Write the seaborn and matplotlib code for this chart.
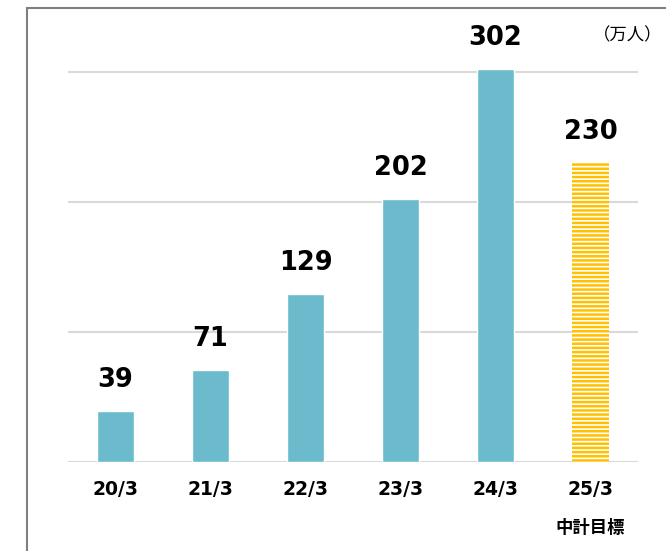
import matplotlib
matplotlib.use("Agg")
import matplotlib.pyplot as plt
import matplotlib.transforms as mtransforms
from matplotlib.patches import Rectangle
import seaborn as sns
import pandas as pd

periods = ["20/3", "21/3", "22/3", "23/3", "24/3", "25/3"]
users = [39, 71, 129, 202, 302, 230]
bar_colors = ["#6BBBCC"] * 5 + ["white"]
target_note = "中計目標"
unit_label = "（万人）"

sns.set_theme(style="white")
plt.rcParams['font.family'] = ['DejaVu Sans', 'Noto Sans CJK JP']
plt.rcParams['hatch.linewidth'] = 1.8

df = pd.DataFrame({"period": periods, "users": users})

fig = plt.figure(figsize=(6.66, 5.51), dpi=100)
ax = fig.add_axes([68 / 666, 89 / 551, 570 / 666, 455 / 551])

sns.barplot(data=df, x="period", y="users", hue="period", palette=bar_colors,
            legend=False, width=0.39, saturation=1, ax=ax)

# last bar = target, yellow horizontal stripes
target = ax.patches[-1]
target.set_hatch("----")
target.set_edgecolor("#FFC000")
target.set_linewidth(0)

for p, v in zip(ax.patches, users):
    ax.annotate(str(v), (p.get_x() + p.get_width() / 2, v),
                xytext=(0, 13), textcoords="offset points",
                ha="center", va="bottom", fontsize=18.5, fontweight="bold",
                color="black")

ax.set_ylim(0, 350)
ax.set_xlim(-0.5, 5.5)
ax.set_yticks([0, 100, 200, 300])
ax.set_yticklabels([])
ax.grid(axis="y", color="#D9D9D9", linewidth=1.5)
ax.set_axisbelow(True)
for s in ax.spines.values():
    s.set_visible(False)
ax.tick_params(axis="y", length=0)
ax.tick_params(axis="x", length=0, pad=13, labelcolor="black")
ax.set_xlabel("")
ax.set_ylabel("")
for lbl in ax.get_xticklabels():
    lbl.set_fontweight("bold")
    lbl.set_fontsize(13.5)

trans = mtransforms.blended_transform_factory(ax.transData, fig.transFigure)
ax.text(5, 1 - 528 / 551, target_note, transform=trans, ha="center", va="center",
        fontsize=12.5, fontweight="bold", color="black",
        family=['Noto Sans CJK JP', 'DejaVu Sans'])
fig.text(0.995, 1 - 35 / 551, unit_label, ha="right", va="center",
         fontsize=12.5, color="black", family=['Noto Sans CJK JP', 'DejaVu Sans'])

# outer frame, running off the right and bottom edges
fig.patches.append(Rectangle((26.5 / 666, -0.1), 1.2, 1 - 7.5 / 551 + 0.1,
                             transform=fig.transFigure, fill=False,
                             edgecolor="#7F7F7F", linewidth=1.5))

fig.savefig("out.png", dpi=100)
